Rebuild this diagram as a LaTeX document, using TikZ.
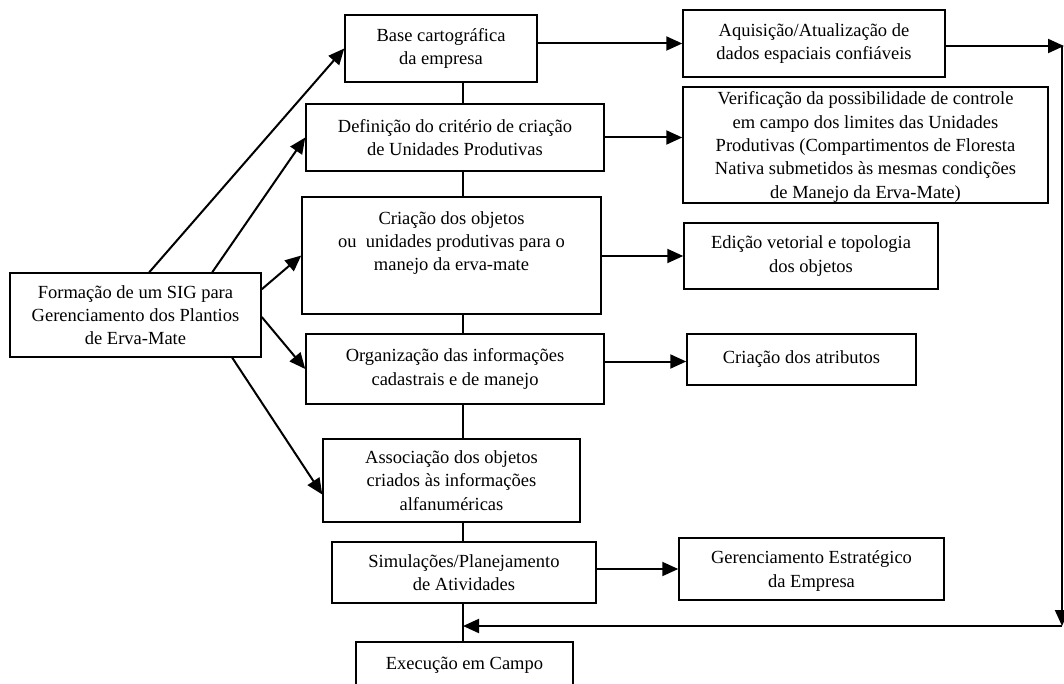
\documentclass[tikz,border=0pt]{standalone}
\usepackage{fontspec}
\setmainfont{Liberation Serif}
\usetikzlibrary{arrows.meta,calc}
\begin{document}
\begin{tikzpicture}[x=1pt,y=-1pt,
  bx/.style={draw,line width=1.5pt,align=center,inner sep=0pt,
    font=\fontsize{18.5}{23.3}\selectfont},
  ln/.style={line width=2pt},
  arr/.style={line width=2pt,-{Triangle[length=16pt,width=14pt]}}]
\clip (0,0) rectangle (1064,684);
\useasboundingbox (0,0) rectangle (1064,684);
% left
\node[bx,minimum width=251pt,minimum height=84pt] (form) at (135.5,315)
  {Formação de um SIG para\\Gerenciamento dos Plantios\\de Erva-Mate};
% middle column
\node[bx,minimum width=192pt,minimum height=67pt] (base) at (441,48.5)
  {Base cartográfica\\da empresa};
\node[bx,minimum width=298pt,minimum height=67pt] (def) at (455,137.5)
  {Definição do critério de criação\\de Unidades Produtivas};
\node[bx,minimum width=299pt,minimum height=117pt,text depth=29pt] (cria) at (451.5,255.5)
  {Criação dos objetos\\ou\ \ unidades produtivas para o\\manejo da erva-mate};
\node[bx,minimum width=298pt,minimum height=70pt] (org) at (455,369)
  {Organização das informações\\cadastrais e de manejo};
\node[bx,minimum width=257pt,minimum height=83pt] (asso) at (451.5,480.5)
  {Associação dos objetos\\criados às informações\\alfanuméricas};
\node[bx,minimum width=264pt,minimum height=61pt,text depth=-1pt] (sim) at (464,572.5)
  {Simulações/Planejamento\\de Atividades};
\node[bx,minimum width=217pt,minimum height=46pt] (exe) at (464.5,665)
  {Execução em Campo};
% right column
\node[bx,minimum width=262pt,minimum height=67pt] (aq) at (814,43.5)
  {Aquisição/Atualização de\\dados espaciais confiáveis};
\node[bx,minimum width=365pt,minimum height=116pt,text depth=-6pt] (ver) at (865.5,145)
  {Verificação da possibilidade de controle\\em campo dos limites das Unidades\\Produtivas (Compartimentos de Floresta\\Nativa submetidos às mesmas condições\\de Manejo da Erva-Mate)};
\node[bx,minimum width=254pt,minimum height=66pt] (edi) at (811,256)
  {Edição vetorial e topologia\\dos objetos};
\node[bx,minimum width=229pt,minimum height=51pt] (atr) at (801.5,359.5)
  {Criação dos atributos};
\node[bx,minimum width=265pt,minimum height=62pt,text depth=-4pt] (ger) at (811.5,569)
  {Gerenciamento Estratégico\\da Empresa};
% helper coordinates
\coordinate (sp) at (463,626);
\coordinate (ne) at (1062,46);
\coordinate (se) at (1062,626);
\coordinate (ne2) at (1064,46);
% spine
\draw[ln] (base.south -| sp) -- (def.north -| sp);
\draw[ln] (def.south -| sp) -- (cria.north -| sp);
\draw[ln] (cria.south -| sp) -- (org.north -| sp);
\draw[ln] (org.south -| sp) -- (asso.north -| sp);
\draw[ln] (asso.south -| sp) -- (sim.north -| sp);
\draw[ln] (sim.south -| sp) -- (exe.north -| sp);
% horizontal arrows
\draw[arr] (aq.west -| base.east) -- (aq.west);
\draw[arr] (def.east) -- (def.east -| ver.west);
\draw[arr] (edi.west -| cria.east) -- (edi.west);
\draw[arr] ($(atr.west -| org.east)+(0,2)$) -- ($(atr.west)+(0,2)$);
\draw[arr] (ger.west -| sim.east) -- (ger.west);
% feedback loop
\draw[arr] (aq.east |- ne) -- (ne2);
\draw[arr] (ne) -- (se);
\draw[arr] (se) -- (sp);
% from left box
\draw[arr] ($(form.north west)+(140,0)$) -- (base.west);
\draw[arr] ($(form.north west)+(203,0)$) -- (def.west);
\draw[arr] ($(form.north east)+(0,17)$) -- (cria.west);
\draw[arr] ($(form.east)+(0,2)$) -- (org.west);
\draw[arr] ($(form.south west)+(223,0)$) -- ($(asso.west)+(0,14)$);
\end{tikzpicture}
\end{document}
